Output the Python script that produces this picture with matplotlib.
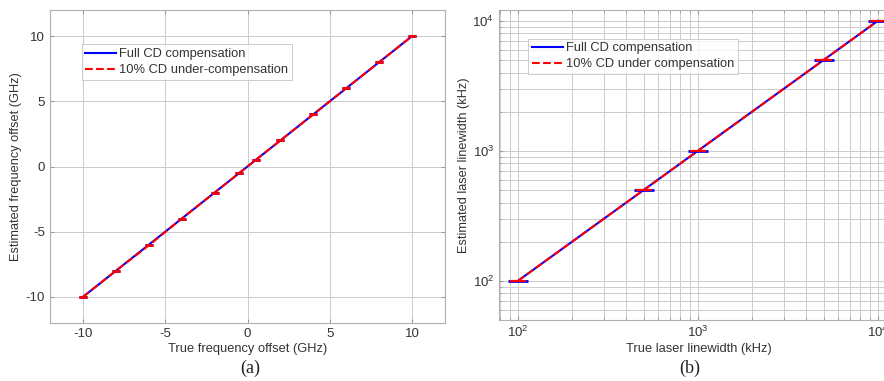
import numpy as np
import matplotlib
matplotlib.use("Agg")
import matplotlib.pyplot as plt
from matplotlib.ticker import LogLocator, NullFormatter

plt.rcParams['font.family'] = ['Liberation Sans', 'DejaVu Sans']
plt.rcParams['axes.unicode_minus'] = False

# (a) frequency offset estimation
true_offset = [-10, -8, -6, -4, -2, -0.5, 0.5, 2, 4, 6, 8, 10]
est_offset_full = [-10, -8, -6, -4, -2, -0.5, 0.5, 2, 4, 6, 8, 10]
est_offset_under = [-10, -8, -6.05, -4, -2, -0.5, 0.5, 2, 4, 6, 8, 10]

# (b) laser linewidth estimation
true_lw = [100, 500, 1000, 5000, 10000]
est_lw_full = [100, 500, 1000, 5000, 10000]
est_lw_under = [100, 500, 1000, 5000, 10000]

legend_a = ['Full CD compensation', '10% CD under-compensation']
legend_b = ['Full CD compensation', '10% CD under compensation']

W, H = 884, 381
fig = plt.figure(figsize=(W / 100, H / 100), dpi=100)

grid_c = '#cccccc'
text_c = '#333333'
tfs = 9.5   # tick labels
yfs = 9.2   # y labels
lfs = 9.3   # legend and x labels


def style(ax):
    for s in ax.spines.values():
        s.set_color('#b0b0b0')
        s.set_linewidth(0.8)
    ax.tick_params(which='both', direction='in', colors='#999999',
                   labelcolor=text_c, labelsize=tfs, length=3,
                   top=True, right=True)
    ax.tick_params(which='minor', length=2)
    ax.set_axisbelow(True)


def add_legend(ax, anchor):
    leg = ax.legend(loc='upper left', bbox_to_anchor=anchor, fontsize=lfs,
                    frameon=True, fancybox=False, borderpad=0.3, handlelength=2.4,
                    handletextpad=0.2, labelspacing=0.3, borderaxespad=0)
    leg.get_frame().set_edgecolor('#c0c0c0')
    leg.get_frame().set_linewidth(0.7)
    for t in leg.get_texts():
        t.set_color(text_c)
    return leg


# left panel
ax1 = fig.add_axes([50 / W, (H - 323) / H, (445 - 50) / W, (323 - 10) / H])
ax1.plot(true_offset, est_offset_full, color='#0000ff', lw=1.5, label=legend_a[0])
ax1.plot(true_offset, est_offset_under, color='#ff0000', lw=1.5, ls='--',
         label=legend_a[1])
ax1.plot(true_offset, est_offset_full, ls='none', color='#0000ff',
         marker='_', ms=6, mew=2)
ax1.plot(true_offset, est_offset_under, ls='none', color='#ff0000',
         marker='_', ms=6, mew=2)
ax1.set_xlim(-12, 12)
ax1.set_ylim(-12, 12)
ax1.set_xticks([-10, -5, 0, 5, 10])
ax1.set_yticks([-10, -5, 0, 5, 10])
ax1.grid(True, color=grid_c, lw=0.7)
ax1.set_xlabel('True frequency offset (GHz)', fontsize=lfs, color=text_c, labelpad=2)
ax1.set_ylabel('Estimated frequency offset (GHz)', fontsize=yfs, color=text_c, labelpad=3)
style(ax1)
add_legend(ax1, (0.08, 0.89))

# right panel
ax2 = fig.add_axes([499 / W, (H - 320) / H, (899 - 499) / W, (320 - 10) / H])
ax2.loglog(true_lw, est_lw_full, color='#0000ff', lw=1.5, label=legend_b[0])
ax2.loglog(true_lw, est_lw_under, color='#ff0000', lw=1.5, ls='--',
           label=legend_b[1])
ax2.loglog(true_lw, est_lw_full, ls='none', color='#0000ff',
           marker='_', ms=14, mew=2)
ax2.loglog(true_lw, est_lw_under, ls='none', color='#ff0000',
           marker='_', ms=12, mew=1.6)
ax2.set_xlim(10 ** 1.895, 10 ** 4.117)
ax2.set_ylim(50, 12100)
ax2.xaxis.set_major_locator(LogLocator(base=10))
ax2.xaxis.set_minor_locator(LogLocator(base=10, subs=np.arange(2, 10)))
ax2.yaxis.set_minor_locator(LogLocator(base=10, subs=np.arange(2, 10)))
ax2.xaxis.set_minor_formatter(NullFormatter())
ax2.yaxis.set_minor_formatter(NullFormatter())
ax2.grid(True, which='both', color=grid_c, lw=0.7)
ax2.set_xlabel('True laser linewidth (kHz)', fontsize=lfs, color=text_c, labelpad=2)
ax2.set_ylabel('Estimated laser linewidth (kHz)', fontsize=yfs, color=text_c, labelpad=2)
style(ax2)
add_legend(ax2, (0.073, 0.908))

fig.text(250 / W, 1 - 368 / H, '(a)', ha='center', va='center',
         fontsize=13, family=['Liberation Serif', 'DejaVu Serif'], color='#222222')
fig.text(690 / W, 1 - 368 / H, '(b)', ha='center', va='center',
         fontsize=13, family=['Liberation Serif', 'DejaVu Serif'], color='#222222')

fig.savefig('out.png', dpi=100)
